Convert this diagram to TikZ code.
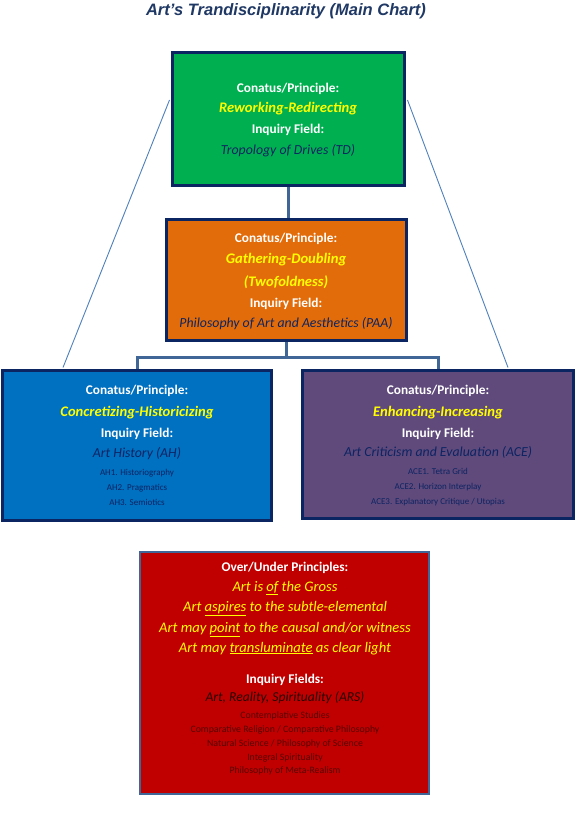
\documentclass[tikz,border=0pt]{standalone}
\usepackage{fontspec}
\setmainfont{Carlito}
\newfontfamily\titlefont{Liberation Sans}
\usetikzlibrary{calc}
\definecolor{navy}{HTML}{0B2563}
\definecolor{navytext}{HTML}{0C2463}
\definecolor{gfill}{HTML}{00B050}
\definecolor{ofill}{HTML}{E36C0A}
\definecolor{bfill}{HTML}{0070C0}
\definecolor{pfill}{HTML}{604A7B}
\definecolor{rfill}{HTML}{C00000}
\definecolor{steel}{HTML}{3F6696}
\definecolor{thin}{HTML}{4F81BD}
\definecolor{ylw}{HTML}{FFFF00}
\definecolor{darkred}{HTML}{560000}
\definecolor{titlecol}{HTML}{1F3864}
\begin{document}
\begin{tikzpicture}[x=1pt,y=-1pt,
  box/.style={draw=navy, line width=3pt, inner sep=0pt, anchor=center},
  lab/.style={inner sep=0pt, anchor=center, text height=.7em, text depth=.2em, yshift=-1.5pt},
  princ/.style={lab, text=white, font=\bfseries\fontsize{13.3}{15}\selectfont},
  conat/.style={lab, text=ylw, font=\bfseries\itshape\fontsize{14.6}{16}\selectfont},
  field/.style={lab, text=navytext, font=\itshape\fontsize{13.8}{15}\selectfont},
  sub/.style={lab, text=navytext, font=\fontsize{9}{10}\selectfont},
  over/.style={lab, text=ylw, font=\itshape\fontsize{14.6}{16}\selectfont},
  rsub/.style={lab, text=darkred, font=\fontsize{9.8}{11}\selectfont},
  conn/.style={draw=steel, line width=3pt},
  diag/.style={draw=thin, line width=0.9pt}
]
\useasboundingbox[fill=white] (0,0) rectangle (575,818);

% title
\node[lab, text=titlecol, font=\titlefont\bfseries\itshape\fontsize{16.5}{18}\selectfont] (title) at (286,12) {Art’s Trandisciplinarity (Main Chart)};

% boxes
\node[box, fill=gfill, minimum width=232pt, minimum height=133pt] (green) at (288.5,119) {};
\node[box, fill=ofill, minimum width=240pt, minimum height=121pt] (orange) at (286.5,280) {};
\node[box, fill=bfill, minimum width=269pt, minimum height=150pt] (blue) at (137,445.5) {};
\node[box, fill=pfill, minimum width=271pt, minimum height=148pt] (purple) at (438,444.5) {};
\node[box, draw=steel, line width=2.5pt, fill=rfill, minimum width=289pt, minimum height=242pt] (red) at (284.5,673) {};

% connectors
\draw[conn] (green.south) -- (green.south |- orange.north);
\coordinate (jn) at ($(orange.south)+(0,15)$);
\draw[conn] (orange.south) -- (jn) -| (blue.north);
\draw[conn] (jn) -| (purple.north);
\coordinate (gl) at ($(green.north west)+(-1.5,49)$);
\coordinate (gr) at ($(green.north east)+(1.5,49)$);
\coordinate (bl) at ($(blue.north west)+(62,-1.5)$);
\coordinate (pr) at ($(purple.north west)+(207,-1.5)$);
\draw[diag] (gl) -- (bl);
\draw[diag] (gr) -- (pr);

% green texts
\node[princ] (g1) at (288,89) {Conatus/Principle:};
\node[conat] (g2) at (288,109) {Reworking-Redirecting};
\node[princ] (g3) at (288,130) {Inquiry Field:};
\node[field] (g4) at (288,151) {Tropology of Drives (TD)};

% orange texts
\node[princ] (o1) at (286,238) {Conatus/Principle:};
\node[conat] (o2) at (286,259) {Gathering-Doubling};
\node[conat] (o3) at (286,282) {(Twofoldness)};
\node[princ] (o4) at (286,303) {Inquiry Field:};
\node[field] (o5) at (286,323) {Philosophy of Art and Aesthetics (PAA)};

% blue texts
\node[princ] (b1) at (137,390) {Conatus/Principle:};
\node[conat] (b2) at (137,412) {Concretizing-Historicizing};
\node[princ] (b3) at (137,433) {Inquiry Field:};
\node[field] (b4) at (137,453) {Art History (AH)};
\node[sub] (b5) at (137,471) {AH1. Historiography};
\node[sub] (b6) at (137,486) {AH2. Pragmatics};
\node[sub] (b7) at (137,501) {AH3. Semiotics};

% purple texts
\node[princ] (p1) at (438,390) {Conatus/Principle:};
\node[conat] (p2) at (438,412) {Enhancing-Increasing};
\node[princ] (p3) at (438,433) {Inquiry Field:};
\node[field] (p4) at (438,452) {Art Criticism and Evaluation (ACE)};
\node[sub] (p5) at (438,470) {ACE1. Tetra Grid};
\node[sub] (p6) at (438,485) {ACE2. Horizon Interplay};
\node[sub] (p7) at (438,500) {ACE3. Explanatory Critique / Utopias};

% red texts
\node[princ] (r1) at (285,567) {Over/Under Principles:};
\node[over] (r2) at (285,587) {Art is \underline{of} the Gross};
\node[over] (r3) at (285,607) {Art \underline{aspires} to the subtle-elemental};
\node[over] (r4) at (285,628) {Art may \underline{point} to the causal and/or witness};
\node[over] (r5) at (285,648) {Art may \underline{transluminate} as clear light};
\node[princ] (r6) at (285,679) {Inquiry Fields:};
\node[lab, text=black!85!red, font=\itshape\fontsize{13.6}{15}\selectfont] (r7) at (285,697) {Art, Reality, Spirituality (ARS)};
\node[rsub] (r8) at (285,714) {Contemplative Studies};
\node[rsub] (r9) at (285,728) {Comparative Religion / Comparative Philosophy};
\node[rsub] (r10) at (285,742) {Natural Science / Philosophy of Science};
\node[rsub] (r11) at (285,756) {Integral Spirituality};
\node[rsub] (r12) at (285,769) {Philosophy of Meta-Realism};
\end{tikzpicture}
\end{document}
